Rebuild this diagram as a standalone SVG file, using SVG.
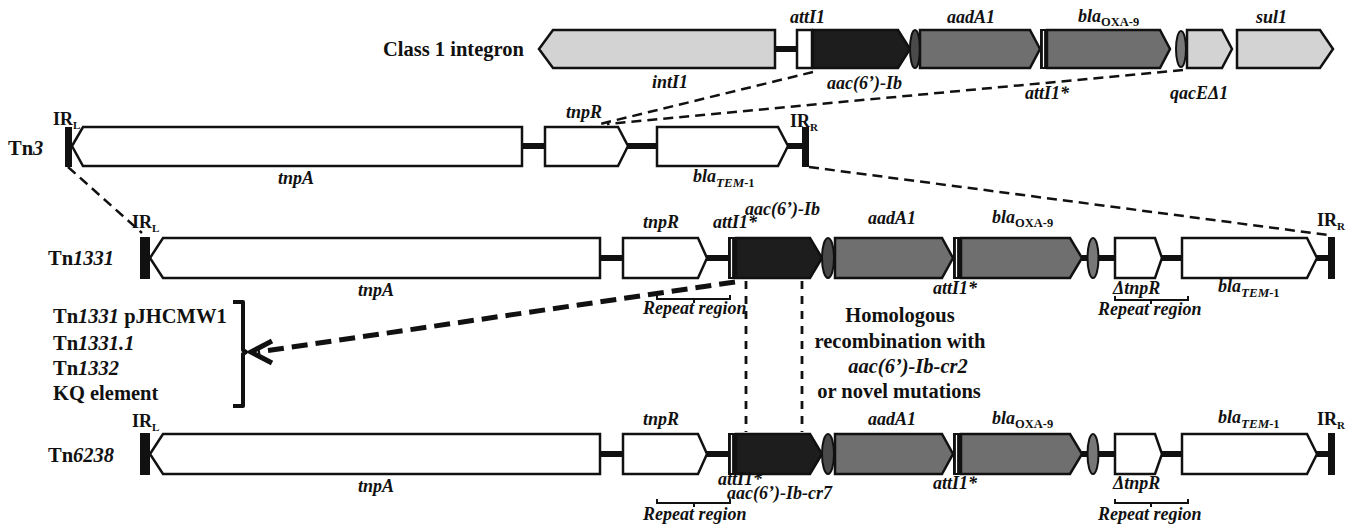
<svg xmlns="http://www.w3.org/2000/svg" width="1355" height="528" viewBox="0 0 1355 528">
<style>
text{font-family:"Liberation Serif","Times New Roman",serif;font-weight:bold;fill:#111}
.li{font-style:italic;font-size:18px}
.big{font-size:20.5px}
.it{font-style:italic}
.sub{font-size:12.5px;font-style:normal}
.subi{font-size:13px;font-style:italic}
.ir{font-size:18px}
.irs{font-size:11px}
.g{stroke:#111;stroke-width:2.5;stroke-linejoin:miter}
.w{fill:#fff}
.lg{fill:#d3d3d3}
.dk{fill:#1d1d1d}
.md{fill:#6f6f6f}
.el{fill:#4a4a4a;stroke:#111;stroke-width:2}
.el2{fill:#777;stroke:#111;stroke-width:2}
.cn{stroke:#111;stroke-width:6}
.bar{fill:#111}
.dash{stroke:#111;stroke-width:2.5;stroke-dasharray:10 6;fill:none}
.vd{stroke:#111;stroke-width:2.8;stroke-dasharray:8 7;fill:none}
.br{stroke:#111;stroke-width:2;fill:none}
</style>

<g id="connectors">
  <line class="dash" x1="813" y1="72" x2="600" y2="124"/>
  <line class="dash" x1="1183" y1="70" x2="607" y2="124"/>
  <line class="dash" x1="68" y1="167" x2="142" y2="233"/>
  <line class="dash" x1="809" y1="167" x2="1328" y2="235"/>
  <line class="vd" x1="746" y1="281" x2="746" y2="432"/>
  <line class="vd" x1="802" y1="281" x2="802" y2="432"/>
  <line x1="735" y1="282" x2="258" y2="352" stroke="#111" stroke-width="5" stroke-dasharray="16 8"/>
  <polyline points="272,341 251,352 272,363" fill="none" stroke="#111" stroke-width="5"/>
</g>

<g id="integron">
  <text class="big" x="383" y="56">Class 1 integron</text>
  <line class="cn" x1="775" y1="49" x2="797" y2="49"/>
  <polygon class="g lg" points="539,49 553,30 775,30 775,68 553,68"/>
  <rect class="g w" x="797" y="30" width="15" height="38"/>
  <polygon class="g dk" points="813,30 898,30 910,49 898,68 813,68"/>
  <ellipse class="el" cx="915" cy="49" rx="5" ry="19"/>
  <polygon class="g md" points="920,30 1030,30 1040,49 1030,68 920,68"/>
  <rect class="bar" x="1040" y="29" width="7" height="40"/>
  <line x1="1043.5" y1="31" x2="1043.5" y2="67" stroke="#fff" stroke-width="1.2"/>
  <polygon class="g md" points="1047,30 1160,30 1170,49 1160,68 1047,68"/>
  <ellipse class="el2" cx="1181" cy="49" rx="5" ry="18"/>
  <polygon class="g lg" points="1187,30 1222,30 1232,49 1222,68 1187,68"/>
  <polygon class="g lg" points="1237,30 1320,30 1333,49 1320,68 1237,68"/>
  <text class="li" x="790" y="23">attI1</text>
  <text class="li" x="947" y="23">aadA1</text>
  <text class="li" x="1078" y="22">bla<tspan class="sub" dy="4">OXA-9</tspan></text>
  <text class="li" x="1256" y="23">sul1</text>
  <text class="li" x="652" y="88">intI1</text>
  <text class="li" x="827" y="89">aac(6’)-Ib</text>
  <text class="li" x="1025" y="99">attI1*</text>
  <text class="li" x="1170" y="99">qacEΔ1</text>
</g>

<g id="tn3">
  <text class="big" x="8" y="155">Tn<tspan class="it">3</tspan></text>
  <text class="ir" x="53" y="125">IR<tspan class="irs" dy="4">L</tspan></text>
  <line class="cn" x1="522" y1="146" x2="545" y2="146"/>
  <line class="cn" x1="628" y1="146" x2="657" y2="146"/>
  <line class="cn" x1="788" y1="146" x2="803" y2="146"/>
  <rect class="bar" x="65" y="127" width="7" height="40"/>
  <polygon class="g w" points="72,146 83,127 522,127 522,166 83,166"/>
  <polygon class="g w" points="545,127 618,127 628,146 618,166 545,166"/>
  <polygon class="g w" points="657,127 778,127 788,146 778,166 657,166"/>
  <rect class="bar" x="802" y="127" width="7" height="40"/>
  <text class="ir" x="790" y="127">IR<tspan class="irs" dy="4">R</tspan></text>
  <text class="li" x="566" y="118">tnpR</text>
  <text class="li" x="278" y="184">tnpA</text>
  <text class="li" x="693" y="182">bla<tspan class="subi" dy="5">TEM</tspan><tspan class="sub">-1</tspan></text>
</g>

<g id="tn1331">
  <text class="big" x="48" y="265">Tn<tspan class="it">1331</tspan></text>
  <text class="ir" x="132" y="228">IR<tspan class="irs" dy="4">L</tspan></text>
  <line class="cn" x1="600" y1="258" x2="623" y2="258"/>
  <line class="cn" x1="707" y1="258" x2="728" y2="258"/>
  <line class="cn" x1="1082" y1="258" x2="1115" y2="258"/>
  <line class="cn" x1="1162" y1="258" x2="1182" y2="258"/>
  <line class="cn" x1="1317" y1="258" x2="1330" y2="258"/>
  <rect class="bar" x="140" y="237" width="10" height="42"/>
  <polygon class="g w" points="150,258 163,238 600,238 600,278 163,278"/>
  <polygon class="g w" points="623,238 698,238 707,258 698,278 623,278"/>
  <rect class="bar" x="728" y="237" width="8" height="42"/>
  <line x1="731.5" y1="239" x2="731.5" y2="277" stroke="#fff" stroke-width="1.2"/>
  <polygon class="g dk" points="736,238 810,238 822,258 810,278 736,278"/>
  <ellipse class="el" cx="828" cy="258" rx="6" ry="20"/>
  <polygon class="g md" points="835,238 942,238 953,258 942,278 835,278"/>
  <rect class="bar" x="953" y="237" width="8" height="42"/>
  <line x1="956.5" y1="239" x2="956.5" y2="277" stroke="#fff" stroke-width="1.2"/>
  <polygon class="g md" points="961,238 1070,238 1082,258 1070,278 961,278"/>
  <ellipse class="el2" cx="1093" cy="258" rx="5.5" ry="20"/>
  <polygon class="g w" points="1115,238 1155,238 1162,258 1155,278 1115,278"/>
  <polygon class="g w" points="1182,238 1307,238 1317,258 1307,278 1182,278"/>
  <rect class="bar" x="1328" y="237" width="7" height="42"/>
  <text class="ir" x="1317" y="226">IR<tspan class="irs" dy="4">R</tspan></text>
  <text class="li" x="643" y="228">tnpR</text>
  <text class="li" x="713" y="228">attI1*</text>
  <text class="li" x="745" y="215">aac(6’)-Ib</text>
  <text class="li" x="868" y="224">aadA1</text>
  <text class="li" x="992" y="223">bla<tspan class="sub" dy="4">OXA-9</tspan></text>
  <text class="li" x="358" y="296">tnpA</text>
  <text class="li" x="933" y="294">attI1*</text>
  <text class="li" x="1113" y="294">ΔtnpR</text>
  <text class="li" x="1218" y="292">bla<tspan class="subi" dy="5">TEM</tspan><tspan class="sub">-1</tspan></text>
  <path class="br" d="M657,295 V299 H730 V295 M694,299 V303"/>
  <text class="li" x="643" y="314">Repeat region</text>
  <path class="br" d="M1115,296 V300 H1188 V296 M1151,300 V304"/>
  <text class="li" x="1098" y="315">Repeat region</text>
</g>

<g id="variants">
  <text class="big" x="53" y="323">Tn<tspan class="it">1331</tspan> pJHCMW1</text>
  <text class="big" x="53" y="350">Tn<tspan class="it">1331.1</tspan></text>
  <text class="big" x="53" y="375">Tn<tspan class="it">1332</tspan></text>
  <text class="big" x="53" y="400">KQ element</text>
  <path d="M233,302 H243 V350 L246,352 L243,354 V406 H233" fill="none" stroke="#111" stroke-width="4" stroke-linejoin="round"/>
</g>

<g id="recombination">
  <text class="big" x="900" y="322" text-anchor="middle">Homologous</text>
  <text class="big" x="900" y="348" text-anchor="middle">recombination with</text>
  <text class="big it" x="908" y="373" text-anchor="middle">aac(6’)-Ib-cr2</text>
  <text class="big" x="899" y="398" text-anchor="middle">or novel mutations</text>
</g>

<g id="tn6238">
  <text class="big" x="48" y="462">Tn<tspan class="it">6238</tspan></text>
  <text class="ir" x="132" y="427">IR<tspan class="irs" dy="4">L</tspan></text>
  <line class="cn" x1="600" y1="454" x2="623" y2="454"/>
  <line class="cn" x1="707" y1="454" x2="728" y2="454"/>
  <line class="cn" x1="1082" y1="454" x2="1115" y2="454"/>
  <line class="cn" x1="1162" y1="454" x2="1182" y2="454"/>
  <line class="cn" x1="1317" y1="454" x2="1330" y2="454"/>
  <rect class="bar" x="140" y="433" width="10" height="42"/>
  <polygon class="g w" points="150,454 163,434 600,434 600,474 163,474"/>
  <polygon class="g w" points="623,434 698,434 707,454 698,474 623,474"/>
  <rect class="bar" x="728" y="433" width="8" height="42"/>
  <line x1="731.5" y1="435" x2="731.5" y2="473" stroke="#fff" stroke-width="1.2"/>
  <polygon class="g dk" points="736,434 810,434 822,454 810,474 736,474"/>
  <ellipse class="el" cx="828" cy="454" rx="6" ry="20"/>
  <polygon class="g md" points="835,434 942,434 953,454 942,474 835,474"/>
  <rect class="bar" x="953" y="433" width="8" height="42"/>
  <line x1="956.5" y1="435" x2="956.5" y2="473" stroke="#fff" stroke-width="1.2"/>
  <polygon class="g md" points="961,434 1070,434 1082,454 1070,474 961,474"/>
  <ellipse class="el2" cx="1093" cy="454" rx="5.5" ry="20"/>
  <polygon class="g w" points="1115,434 1155,434 1162,454 1155,474 1115,474"/>
  <polygon class="g w" points="1182,434 1307,434 1317,454 1307,474 1182,474"/>
  <rect class="bar" x="1328" y="433" width="7" height="42"/>
  <text class="ir" x="1317" y="425">IR<tspan class="irs" dy="4">R</tspan></text>
  <text class="li" x="643" y="425">tnpR</text>
  <text class="li" x="868" y="425">aadA1</text>
  <text class="li" x="992" y="424">bla<tspan class="sub" dy="4">OXA-9</tspan></text>
  <text class="li" x="1218" y="423">bla<tspan class="subi" dy="5">TEM</tspan><tspan class="sub">-1</tspan></text>
  <text class="li" x="358" y="492">tnpA</text>
  <text class="li" x="718" y="485">attI1*</text>
  <text class="li" x="727" y="499">aac(6’)-Ib-cr7</text>
  <text class="li" x="933" y="489">attI1*</text>
  <text class="li" x="1113" y="489">ΔtnpR</text>
  <path class="br" d="M657,499 V503 H730 V499 M694,503 V507"/>
  <text class="li" x="643" y="520">Repeat region</text>
  <path class="br" d="M1115,499 V503 H1188 V499 M1151,503 V507"/>
  <text class="li" x="1098" y="520">Repeat region</text>
</g>
</svg>
